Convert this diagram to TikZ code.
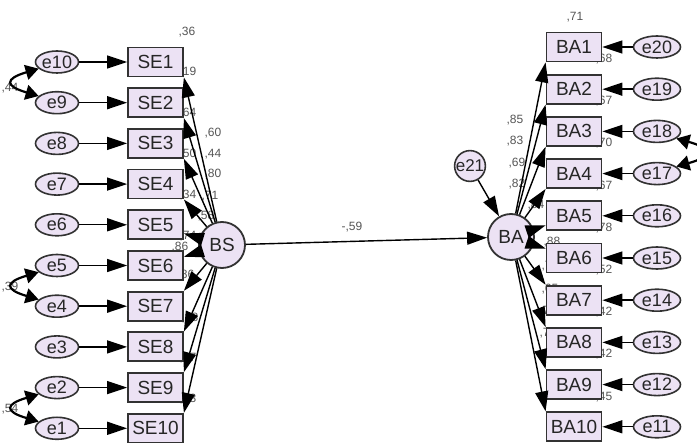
\documentclass[tikz,border=0pt]{standalone}
\usepackage{fontspec}
\setmainfont{Liberation Sans}
\usetikzlibrary{arrows.meta,shapes.geometric}
\definecolor{fillv}{RGB}{236,226,244}
\definecolor{edgec}{RGB}{50,50,50}
\definecolor{lblc}{RGB}{85,85,85}
\tikzset{
  obs/.style={rectangle, draw=edgec, line width=1.8pt, fill=fillv,
    minimum width=55pt, minimum height=29pt, inner sep=0pt,
    font=\fontsize{19}{19}\selectfont, text=black!85},
  errl/.style={ellipse, draw=edgec, line width=1.6pt, fill=fillv,
    minimum width=43pt, minimum height=22pt, inner sep=0pt,
    font=\fontsize{18}{18}\selectfont, text=black!85},
  errr/.style={errl, minimum width=47pt},
  lat/.style={circle, draw=edgec, line width=1.8pt, fill=fillv,
    minimum size=46pt, inner sep=0pt,
    font=\fontsize{19}{19}\selectfont, text=black!85},
  arr/.style={line width=1.4pt, -{Triangle[length=20pt,width=13pt]}},
  cov/.style={line width=2.2pt, {Triangle[length=13pt,width=15pt]}-{Triangle[length=13pt,width=15pt]}},
  est/.style={font=\fontsize{12}{12}\selectfont, text=lblc, inner sep=0pt}
}
\begin{document}
\begin{tikzpicture}[x=1pt,y=-1pt]
\useasboundingbox[fill=white] (0,0) rectangle (697,443);

% estimates that sit behind the paths and boxes
\node[est] (r1) at (187,32) {,36};
\node[est] (r2) at (188,72) {,19};
\node[est] (r3) at (188,113) {,64};
\node[est] (r4) at (188,154) {,50};
\node[est] (r5) at (188,195) {,34};
\node[est] (r6) at (188,236) {,74};
\node[est] (r7) at (186,275) {,86};
\node[est] (r8) at (190,318) {,88};
\node[est] (r9) at (188,358) {,47};
\node[est] (r10) at (188,399) {,53};
\node[est] (l1) at (213,133) {,60};
\node[est] (l2) at (213,154) {,44};
\node[est] (l3) at (213,174) {,80};
\node[est] (l4) at (210,196) {,71};
\node[est] (l5) at (206,216) {,58};
\node[est] (l6) at (180,247) {,86};

\node[est] (q1) at (575,17) {,71};
\node[est] (q2) at (604,59) {,68};
\node[est] (q3) at (604,101) {,67};
\node[est] (q4) at (604,143) {,70};
\node[est] (q5) at (604,186) {,67};
\node[est] (q6) at (604,228) {,78};
\node[est] (q7) at (604,270) {,52};
\node[est] (q8) at (604,312) {,42};
\node[est] (q9) at (604,354) {,42};
\node[est] (q10) at (604,397) {,45};
\node[est] (k1) at (515,120) {,85};
\node[est] (k2) at (515,141) {,83};
\node[est] (k3) at (517,163) {,69};
\node[est] (k4) at (517,184) {,82};
\node[est] (k5) at (536,205) {,84};
\node[est] (k6) at (552,242) {,88};
\node[est] (k7) at (550,266) {,72};
\node[est] (k8) at (550,289) {,65};
\node[est] (k9) at (548,311) {,79};
\node[est] (k10) at (548,333) {,77};

\node[est] (c1) at (10,88) {,44};
\node[est] (c2) at (10,287) {,39};
\node[est] (c3) at (10,409) {,54};
\node[est] (bb) at (352,227) {-,59};

% left block: indicators SE1..SE10 with errors e10..e1
\foreach \i in {1,...,10} {
  \pgfmathsetmacro\yy{62+40.7*(\i-1)}
  \pgfmathtruncatemacro\ee{11-\i}
  \node[obs] (SE\i) at (155.5,\yy) {SE\i};
  \node[errl] (e\ee) at (57,\yy) {e\ee};
  \draw[arr] (e\ee) -- (SE\i);
}

% right block: indicators BA1..BA10 with errors e20..e11
\foreach \i in {1,...,10} {
  \pgfmathsetmacro\yy{47+42.2*(\i-1)}
  \pgfmathtruncatemacro\ee{21-\i}
  \node[obs] (BA\i) at (574,\yy) {BA\i};
  \node[errr] (e\ee) at (657,\yy) {e\ee};
  \draw[arr] (e\ee) -- (BA\i);
}

% latent variables
\node[lat] (BS) at (222,245) {BS};
\node[lat] (BA) at (511,237) {BA};
\node[circle, draw=edgec, line width=1.6pt, fill=fillv, minimum size=29pt,
  inner sep=0pt, font=\fontsize{17}{17}\selectfont, text=black!85] (e21) at (470,166) {e21};

% loadings
\foreach \i in {1,...,4} \draw[arr] (BS) -- (SE\i.south east);
\foreach \i in {5,6} \draw[arr] (BS) -- (SE\i);
\foreach \i in {7,...,10} \draw[arr] (BS) -- (SE\i.north east);
\foreach \i in {1,...,4} \draw[arr] (BA) -- (BA\i.south west);
\foreach \i in {5,6} \draw[arr] (BA) -- (BA\i);
\foreach \i in {7,...,10} \draw[arr] (BA) -- (BA\i.north west);

% structural path and disturbance
\draw[arr] (BS) -- (BA);
\draw[arr] (e21) -- (BA);

% error covariances
\draw[cov] (e10.200) .. controls +(-34,10) and +(-34,-10) .. (e9.160);
\draw[cov] (e5.200) .. controls +(-34,10) and +(-34,-10) .. (e4.160);
\draw[cov] (e2.200) .. controls +(-34,10) and +(-34,-10) .. (e1.160);
\draw[cov] (e18.-20) .. controls +(36,10) and +(36,-10) .. (e17.20);
\end{tikzpicture}
\end{document}
